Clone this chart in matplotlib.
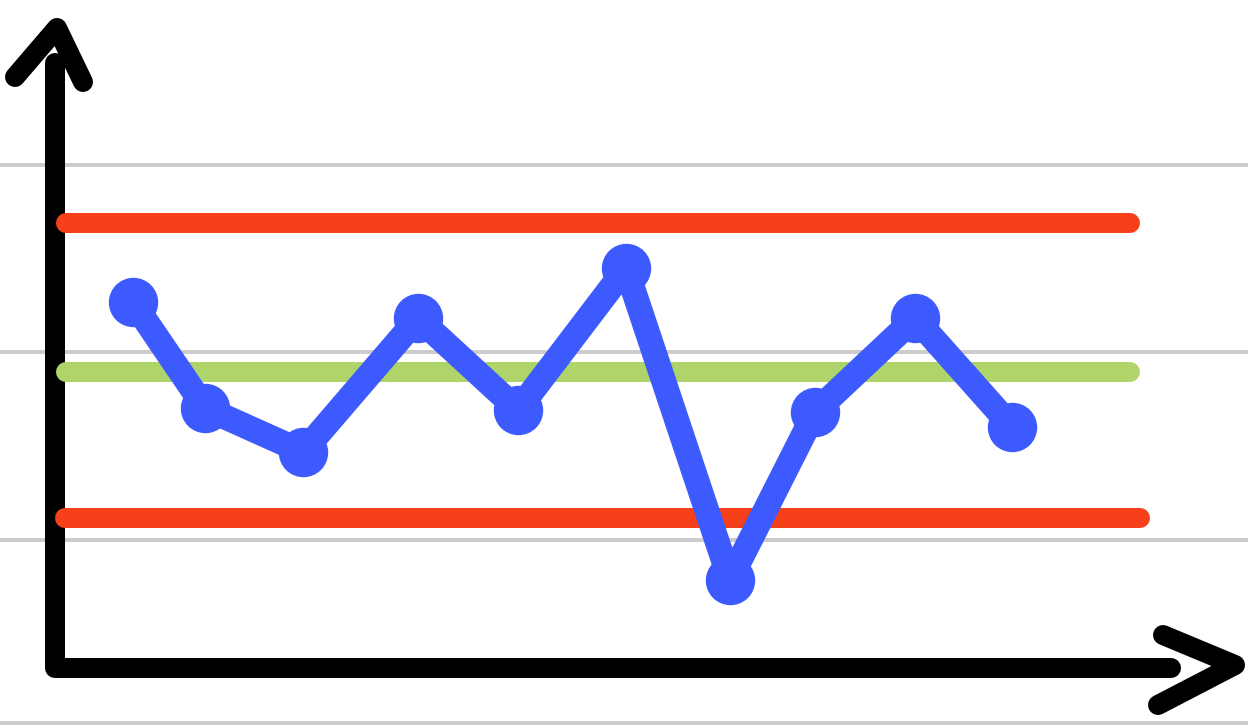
import matplotlib
matplotlib.use("Agg")
import matplotlib.pyplot as plt

# Data (hand-drawn control chart), units: arbitrary
sample_x = [0.80, 1.52, 2.50, 3.65, 4.65, 5.73, 6.77, 7.62, 8.62, 9.59]
sample_y = [3.66, 2.60, 2.16, 3.50, 2.58, 4.00, 0.88, 2.56, 3.50, 2.41]
ucl = 4.45
center = 2.96
lcl = 1.50
grid_y = [5.03, 3.16, 1.28, -0.55]

W, H, DPI = 1248, 726, 100
fig = plt.figure(figsize=(W / DPI, H / DPI), dpi=DPI)
ax = fig.add_axes([0, 0, 1, 1])
ox, oy = 53, 668  # pixel origin
ax.set_xlim((0 - ox) / 100, (W - ox) / 100)
ax.set_ylim((oy - H) / 100, (oy - 0) / 100)
ax.axis("off")

def px(v):
    return v * 72 / DPI

# gray grid lines
for g in grid_y:
    ax.axhline(g, color="#cccccc", lw=px(4), zorder=1)

kw = dict(solid_capstyle="round", solid_joinstyle="round")

# axes with arrows
ax.plot([0.02, 0.02, 11.18], [6.05, 0.0, 0.0], color="black", lw=px(20), zorder=2, **kw)
ax.plot([-0.38, 0.04, 0.30], [5.91, 6.40, 5.86], color="black", lw=px(20), zorder=2, **kw)
ax.plot([11.10, 11.82, 11.05], [0.33, 0.03, -0.37], color="black", lw=px(20), zorder=2, **kw)

# control limits
ax.plot([0.13, 10.77], [ucl, ucl], color="#f5401a", lw=px(20), zorder=3, **kw)
ax.plot([0.12, 10.87], [lcl, lcl], color="#f5401a", lw=px(20), zorder=3, **kw)
ax.plot([0.13, 10.77], [center, center], color="#aed46a", lw=px(20), zorder=3, **kw)

# data series
ax.plot(sample_x, sample_y, color="#3d5afe", lw=px(25), marker="o",
        markersize=px(48), zorder=4, **kw)

fig.savefig("out.png", dpi=DPI, facecolor="white")
